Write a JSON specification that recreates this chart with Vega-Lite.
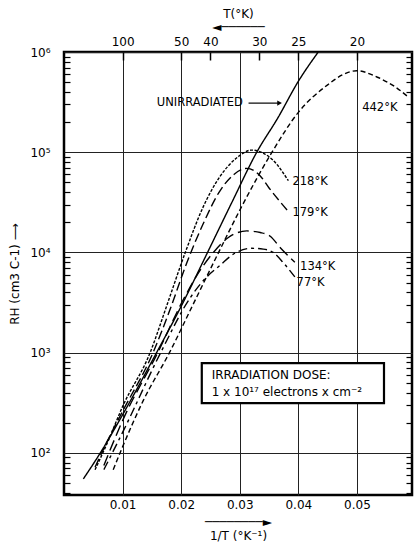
{
  "$schema": "https://vega.github.io/schema/vega-lite/v6.json",
  "width": 348,
  "height": 443,
  "autosize": "none",
  "padding": {"left": 64, "top": 52, "right": 2, "bottom": 53},
  "background": "white",
  "config": {
    "view": {"stroke": "black", "strokeWidth": 2.5},
    "font": "DejaVu Sans"
  },
  "resolve": {"axis": {"x": "independent", "y": "independent"}},
  "datasets": {
    "curves": [
      {"s": "unirradiated", "x": 0.0033, "r": 55},
      {"s": "unirradiated", "x": 0.0062, "r": 100},
      {"s": "unirradiated", "x": 0.01, "r": 240},
      {"s": "unirradiated", "x": 0.0158, "r": 1000},
      {"s": "unirradiated", "x": 0.02, "r": 2900},
      {"s": "unirradiated", "x": 0.0245, "r": 10000},
      {"s": "unirradiated", "x": 0.0287, "r": 32000},
      {"s": "unirradiated", "x": 0.0329, "r": 100000},
      {"s": "unirradiated", "x": 0.0365, "r": 220000},
      {"s": "unirradiated", "x": 0.04, "r": 510000},
      {"s": "unirradiated", "x": 0.0434, "r": 1000000},
      {"s": "442", "x": 0.0084, "r": 68},
      {"s": "442", "x": 0.01, "r": 115},
      {"s": "442", "x": 0.0135, "r": 330},
      {"s": "442", "x": 0.018, "r": 1000},
      {"s": "442", "x": 0.022, "r": 3000},
      {"s": "442", "x": 0.026, "r": 9000},
      {"s": "442", "x": 0.0305, "r": 30000},
      {"s": "442", "x": 0.0355, "r": 100000},
      {"s": "442", "x": 0.04, "r": 250000},
      {"s": "442", "x": 0.045, "r": 470000},
      {"s": "442", "x": 0.0475, "r": 590000},
      {"s": "442", "x": 0.05, "r": 650000},
      {"s": "442", "x": 0.0535, "r": 560000},
      {"s": "442", "x": 0.0565, "r": 450000},
      {"s": "442", "x": 0.0589, "r": 350000},
      {"s": "218", "x": 0.0053, "r": 68},
      {"s": "218", "x": 0.0075, "r": 130},
      {"s": "218", "x": 0.01, "r": 290},
      {"s": "218", "x": 0.0147, "r": 1000},
      {"s": "218", "x": 0.0175, "r": 2900},
      {"s": "218", "x": 0.0207, "r": 10000},
      {"s": "218", "x": 0.0237, "r": 28000},
      {"s": "218", "x": 0.0266, "r": 57000},
      {"s": "218", "x": 0.0295, "r": 88000},
      {"s": "218", "x": 0.032, "r": 105000},
      {"s": "218", "x": 0.034, "r": 98000},
      {"s": "218", "x": 0.0357, "r": 83000},
      {"s": "218", "x": 0.0383, "r": 52000},
      {"s": "179", "x": 0.0053, "r": 72},
      {"s": "179", "x": 0.0075, "r": 135},
      {"s": "179", "x": 0.01, "r": 260},
      {"s": "179", "x": 0.0152, "r": 1000},
      {"s": "179", "x": 0.018, "r": 2600},
      {"s": "179", "x": 0.021, "r": 8000},
      {"s": "179", "x": 0.0237, "r": 19000},
      {"s": "179", "x": 0.0266, "r": 41000},
      {"s": "179", "x": 0.029, "r": 60000},
      {"s": "179", "x": 0.0312, "r": 69000},
      {"s": "179", "x": 0.0335, "r": 58000},
      {"s": "179", "x": 0.035, "r": 44000},
      {"s": "179", "x": 0.0367, "r": 33000},
      {"s": "179", "x": 0.0382, "r": 26000},
      {"s": "134", "x": 0.0068, "r": 75},
      {"s": "134", "x": 0.01, "r": 210},
      {"s": "134", "x": 0.016, "r": 1000},
      {"s": "134", "x": 0.0205, "r": 3500},
      {"s": "134", "x": 0.0235, "r": 7000},
      {"s": "134", "x": 0.0255, "r": 10000},
      {"s": "134", "x": 0.028, "r": 14000},
      {"s": "134", "x": 0.0312, "r": 16400},
      {"s": "134", "x": 0.0335, "r": 15800},
      {"s": "134", "x": 0.0352, "r": 14500},
      {"s": "134", "x": 0.037, "r": 11000},
      {"s": "134", "x": 0.0394, "r": 8000},
      {"s": "77", "x": 0.0068, "r": 68},
      {"s": "77", "x": 0.01, "r": 160},
      {"s": "77", "x": 0.0165, "r": 1000},
      {"s": "77", "x": 0.0215, "r": 3500},
      {"s": "77", "x": 0.0245, "r": 5800},
      {"s": "77", "x": 0.0266, "r": 7400},
      {"s": "77", "x": 0.029, "r": 9700},
      {"s": "77", "x": 0.032, "r": 11000},
      {"s": "77", "x": 0.034, "r": 10800},
      {"s": "77", "x": 0.0357, "r": 10000},
      {"s": "77", "x": 0.0375, "r": 7800},
      {"s": "77", "x": 0.0394, "r": 5700}
    ],
    "labels": [
      {"x": 0.01584, "r": 309000, "text": "UNIRRADIATED"},
      {"x": 0.0509, "r": 275000, "text": "442°K"},
      {"x": 0.0390, "r": 50000, "text": "218°K"},
      {"x": 0.0390, "r": 24600, "text": "179°K"},
      {"x": 0.0403, "r": 7180, "text": "134°K"},
      {"x": 0.0397, "r": 5000, "text": "77°K"}
    ],
    "arrow": [
      {"x": 0.0315, "x2": 0.0368, "r": 309000}
    ],
    "box": [
      {"x": 0.02352, "x2": 0.05462, "r": 787, "r2": 314}
    ],
    "boxtext": [
      {"x": 0.0252, "r": 598, "text": "IRRADIATION DOSE:"},
      {"x": 0.0252, "r": 402, "text": "1 x 10¹⁷ electrons x cm⁻²"}
    ]
  },
  "layer": [
    {
      "data": {"name": "curves"},
      "mark": {"type": "line", "color": "black", "strokeWidth": 1.4, "interpolate": "monotone", "clip": true},
      "encoding": {
        "x": {
          "field": "x", "type": "quantitative",
          "scale": {"domain": [0, 0.0594], "nice": false, "zero": false},
          "axis": {
            "orient": "bottom",
            "values": [0.01, 0.02, 0.03, 0.04, 0.05],
            "format": ".2f",
            "grid": true, "gridColor": "#222", "gridWidth": 1,
            "ticks": false, "domain": false,
            "labelPadding": 4, "labelFontSize": 12, "labelColor": "black", "labelFont": "DejaVu Sans",
            "title": ["────────►", "1/T (°K⁻¹)"],
            "titleFontSize": 12, "titleFontWeight": "normal", "titleFont": "DejaVu Sans", "titleColor": "black",
            "titlePadding": 6
          }
        },
        "y": {
          "field": "r", "type": "quantitative",
          "scale": {"type": "log", "domain": [38, 1000000], "nice": false},
          "axis": {
            "orient": "left",
            "values": [40, 50, 60, 70, 80, 90, 100, 200, 300, 400, 500, 600, 700, 800, 900, 1000, 2000, 3000, 4000, 5000, 6000, 7000, 8000, 9000, 10000, 20000, 30000, 40000, 50000, 60000, 70000, 80000, 90000, 100000, 200000, 300000, 400000, 500000, 600000, 700000, 800000, 900000, 1000000],
            "labelExpr": "abs(log(datum.value)/LN10 - round(log(datum.value)/LN10)) < 0.000001 ? '10' + ['⁰','¹','²','³','⁴','⁵','⁶'][round(log(datum.value)/LN10)] : ''",
            "grid": true, "gridColor": "#222", "gridWidth": 1,
            "gridOpacity": {"condition": {"test": "abs(log(datum.value)/LN10 - round(log(datum.value)/LN10)) < 0.000001", "value": 1}, "value": 0},
            "tickSize": -6, "tickColor": "black", "tickWidth": 1.2,
            "tickOpacity": {"condition": {"test": "abs(log(datum.value)/LN10 - round(log(datum.value)/LN10)) < 0.000001", "value": 0}, "value": 1},
            "domain": false,
            "labelPadding": 20, "labelFontSize": 12, "labelColor": "black", "labelFont": "DejaVu Sans",
            "title": "RH (cm3 C-1) ⟶",
            "titleFontSize": 12, "titleFontWeight": "normal", "titleFont": "DejaVu Sans", "titleColor": "black",
            "titlePadding": 8
          }
        },
        "detail": {"field": "s"},
        "strokeDash": {
          "field": "s", "type": "nominal",
          "scale": {"domain": ["unirradiated", "442", "218", "179", "134", "77"], "range": [[1, 0], [5, 3], [3, 1.5], [9, 4], [11, 5], [9, 4, 3, 4]]},
          "legend": null
        }
      }
    },
    {
      "data": {"name": "box"},
      "mark": {"type": "rect", "fill": "white", "stroke": "black", "strokeWidth": 2.2},
      "encoding": {
        "x": {"field": "x", "type": "quantitative", "axis": null},
        "x2": {"field": "x2"},
        "y": {"field": "r", "type": "quantitative", "axis": null},
        "y2": {"field": "r2"}
      }
    },
    {
      "data": {"name": "boxtext"},
      "mark": {"type": "text", "align": "left", "baseline": "middle", "fontSize": 12, "font": "DejaVu Sans", "color": "black"},
      "encoding": {
        "x": {"field": "x", "type": "quantitative", "axis": null},
        "y": {"field": "r", "type": "quantitative", "axis": null},
        "text": {"field": "text"}
      }
    },
    {
      "data": {"name": "arrow"},
      "mark": {"type": "rule", "color": "black", "strokeWidth": 1.2},
      "encoding": {
        "x": {"field": "x", "type": "quantitative", "axis": null},
        "x2": {"field": "x2"},
        "y": {"field": "r", "type": "quantitative", "axis": null}
      }
    },
    {
      "data": {"name": "arrow"},
      "mark": {"type": "point", "shape": "triangle-right", "filled": true, "color": "black", "size": 30, "opacity": 1},
      "encoding": {
        "x": {"field": "x2", "type": "quantitative", "axis": null},
        "y": {"field": "r", "type": "quantitative", "axis": null}
      }
    },
    {
      "data": {"name": "labels"},
      "mark": {"type": "text", "align": "left", "baseline": "middle", "fontSize": 11.5, "font": "DejaVu Sans", "color": "black"},
      "encoding": {
        "x": {
          "field": "x", "type": "quantitative",
          "axis": {
            "orient": "top",
            "values": [0.01, 0.02, 0.025, 0.033333, 0.04, 0.05],
            "labelExpr": "format(round(1/datum.value), 'd')",
            "grid": false, "domain": false,
            "tickSize": -8, "tickColor": "black", "tickWidth": 1.5,
            "labelPadding": 12, "labelFontSize": 12, "labelColor": "black", "labelFont": "DejaVu Sans",
            "title": ["T(°K)", "◄──────"],
            "titleLineHeight": 13,
            "titleFontSize": 12, "titleFontWeight": "normal", "titleFont": "DejaVu Sans", "titleColor": "black",
            "titlePadding": 2
          }
        },
        "y": {
          "field": "r", "type": "quantitative",
          "axis": {
            "orient": "right",
            "values": [40, 50, 60, 70, 80, 90, 100, 200, 300, 400, 500, 600, 700, 800, 900, 1000, 2000, 3000, 4000, 5000, 6000, 7000, 8000, 9000, 10000, 20000, 30000, 40000, 50000, 60000, 70000, 80000, 90000, 100000, 200000, 300000, 400000, 500000, 600000, 700000, 800000, 900000, 1000000],
            "labels": false, "grid": false, "domain": false,
            "tickSize": -6, "tickColor": "black", "tickWidth": 1.2,
            "tickOpacity": {"condition": {"test": "abs(log(datum.value)/LN10 - round(log(datum.value)/LN10)) < 0.000001", "value": 0}, "value": 1},
            "title": null
          }
        },
        "text": {"field": "text"}
      }
    }
  ]
}
